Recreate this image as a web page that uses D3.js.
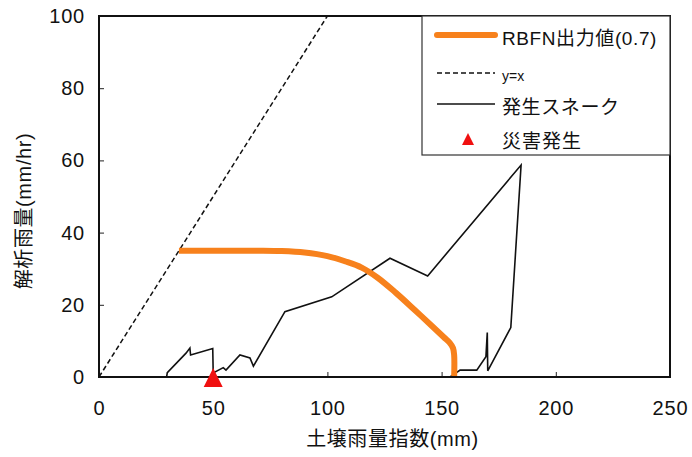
<!DOCTYPE html>
<html><head><meta charset="utf-8">
<script src="https://cdn.jsdelivr.net/npm/d3@7"></script>
<style>
body{margin:0;background:#fff;}
text{font-family:"Liberation Sans","Noto Sans CJK JP",Arial,sans-serif;fill:#111;}
</style></head><body>
<svg id="c" width="692" height="457"></svg>
<script>
// ---- data ----
const xTicks = [0, 50, 100, 150, 200, 250];
const yTicks = [0, 20, 40, 60, 80, 100];
const rbfnX = [35, 55, 70, 80, 90, 100, 108, 115, 122, 130, 138, 146, 151, 153.5, 155, 155.5, 155.5];
const rbfnY = [35, 35, 35, 34.9, 34.5, 33.5, 32, 30.3, 27.5, 23.3, 18.7, 14, 11, 9.5, 8, 6, 0];
const identX = [0, 100];
const identY = [0, 100];
const snakeX = [29.6, 29.9, 38.1, 39.8, 40.1, 49.8, 50.0, 54.4, 55.6, 61.7, 66.1, 67.6, 81.4, 101.9, 127.4, 143.9, 184.8, 180.3, 170.2, 170.0, 169.4, 165.4, 158.1, 153.7];
const snakeY = [0, 1.2, 6.6, 8.0, 6.1, 7.9, 1.1, 2.6, 1.9, 6.1, 5.3, 3.0, 18.1, 22.2, 32.9, 28.0, 58.7, 13.7, 1.7, 12.3, 5.6, 1.9, 1.9, 0];
const disasterX = [50];
const disasterY = [0];
const legendLabels = ["RBFN出力値(0.7)", "y=x", "発生スネーク", "災害発生"];
const xTitle = "土壌雨量指数(mm)";
const yTitle = "解析雨量(mm/hr)";

// ---- chart ----
const svg = d3.select("#c");
const L = 99, R = 670, T = 16, B = 377;
const x = d3.scaleLinear().domain([0, 250]).range([L, R]);
const y = d3.scaleLinear().domain([0, 100]).range([B, T]);
const zip = (a, b) => a.map((v, i) => [v, b[i]]);
const line = d3.line().x(d => x(d[0])).y(d => y(d[1]));

svg.append("defs").append("clipPath").attr("id", "clip")
  .append("rect").attr("x", L).attr("y", T).attr("width", R - L).attr("height", B - T);

// axes (ticks inside)
const xAxis = d3.axisBottom(x).tickValues(xTicks).tickSize(-5).tickPadding(24).tickFormat(d3.format("d"));
const gx = svg.append("g").attr("transform", `translate(0,${B})`).call(xAxis);
gx.select(".domain").remove();
gx.selectAll("line").attr("stroke", "#222").attr("stroke-width", 1);
gx.selectAll("text").attr("font-size", 20).attr("letter-spacing", 0.8).style("fill", "#111");

const yAxis = d3.axisLeft(y).tickValues(yTicks).tickSize(-5).tickPadding(14).tickFormat(d3.format("d"));
const gy = svg.append("g").attr("transform", `translate(${L},0)`).call(yAxis);
gy.select(".domain").remove();
gy.selectAll("line").attr("stroke", "#222").attr("stroke-width", 1);
gy.selectAll("text").attr("font-size", 20).attr("letter-spacing", 0.8).style("fill", "#111");

// series
const plot = svg.append("g").attr("clip-path", "url(#clip)");
plot.append("path").datum(zip(identX, identY)).attr("d", line)
  .attr("fill", "none").attr("stroke", "#111").attr("stroke-width", 1.5).attr("stroke-dasharray", "5,3");
plot.append("path").datum(zip(snakeX, snakeY)).attr("d", line)
  .attr("fill", "none").attr("stroke", "#111").attr("stroke-width", 1.6).attr("stroke-linejoin", "miter");
svg.append("path").datum(zip(rbfnX, rbfnY))
  .attr("d", d3.line().x(d => x(d[0])).y(d => y(d[1])).curve(d3.curveCatmullRom.alpha(0.5)))
  .attr("fill", "none").attr("stroke", "#f7811c").attr("stroke-width", 6).attr("stroke-linejoin", "round");

// frame
svg.append("rect").attr("x", L).attr("y", T).attr("width", R - L).attr("height", B - T)
  .attr("fill", "none").attr("stroke", "#111").attr("stroke-width", 2);

// disaster triangles
svg.selectAll(".tri").data(zip(disasterX, disasterY)).enter().append("path")
  .attr("d", d => { const cx = x(d[0]), cy = y(d[1]); return `M${cx},${cy - 9}L${cx + 9.5},${cy + 10}L${cx - 9.5},${cy + 10}Z`; })
  .attr("fill", "#f01010");

// legend
const lg = svg.append("g");
lg.append("rect").attr("x", 422).attr("y", T).attr("width", R - 422).attr("height", 139)
  .attr("fill", "#fff").attr("stroke", "#333").attr("stroke-width", 1.2);
const ly = [35, 73, 104, 140];
lg.append("line").attr("x1", 437).attr("x2", 495).attr("y1", ly[0]).attr("y2", ly[0])
  .attr("stroke", "#f7811c").attr("stroke-width", 6).attr("stroke-linecap", "round");
lg.append("line").attr("x1", 437).attr("x2", 495).attr("y1", ly[1]).attr("y2", ly[1])
  .attr("stroke", "#111").attr("stroke-width", 1.5).attr("stroke-dasharray", "5,3");
lg.append("line").attr("x1", 437).attr("x2", 495).attr("y1", ly[2]).attr("y2", ly[2])
  .attr("stroke", "#111").attr("stroke-width", 1.6);
lg.append("path").attr("d", `M468,${ly[3] - 7}L474,${ly[3] + 5}L462,${ly[3] + 5}Z`).attr("fill", "#f01010");
const lsize = [19, 14, 19, 19];
const lspace = [0.6, 0, 0.6, 1];
const lyt = [38, 76, 107, 141];
legendLabels.forEach((t, i) => {
  lg.append("text").attr("x", 502).attr("y", lyt[i]).attr("dy", "0.35em")
    .attr("font-size", lsize[i]).attr("letter-spacing", lspace[i]).text(t);
});

// axis titles
svg.append("text").attr("x", (L + R) / 2 + 8).attr("y", 439).attr("dy", "0.35em")
  .attr("text-anchor", "middle").attr("font-size", 20).attr("letter-spacing", 0.6).text(xTitle);
svg.append("text").attr("transform", "translate(24,211) rotate(-90)").attr("dy", "0.35em")
  .attr("text-anchor", "middle").attr("font-size", 20).attr("letter-spacing", 0.6).text(yTitle);
</script>
</body></html>
